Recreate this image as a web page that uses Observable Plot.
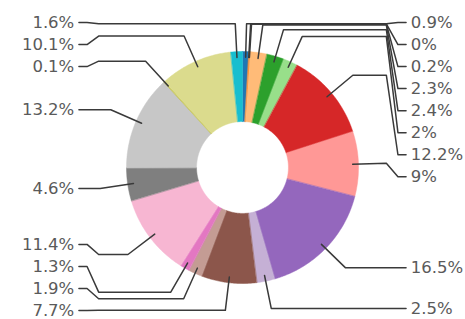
<!DOCTYPE html>
<html><head><meta charset="utf-8">
<script src="https://cdn.jsdelivr.net/npm/d3@7"></script>
<script src="https://cdn.jsdelivr.net/npm/@observablehq/plot@0.6"></script>
<style>html,body{margin:0;padding:0;background:#fff}</style>
</head><body><div id="chart"></div>
<script>
// Slice values (percent), clockwise from 12 o'clock
const values = [0.9, 0, 0.2, 2.3, 2.4, 2, 12.2, 9, 16.5, 2.5, 7.7, 1.9, 1.3, 11.4, 4.6, 13.2, 0.1, 10.1, 1.6];
const labels = ["0.9%", "0%", "0.2%", "2.3%", "2.4%", "2%", "12.2%", "9%", "16.5%", "2.5%", "7.7%", "1.9%", "1.3%", "11.4%", "4.6%", "13.2%", "0.1%", "10.1%", "1.6%"];
const colors = ["#1f77b4", "#aec7e8", "#ff7f0e", "#ffbb78", "#2ca02c", "#98df8a", "#d62728", "#ff9896", "#9467bd", "#c5b0d5", "#8c564b", "#c49c94", "#e377c2", "#f7b6d2", "#7f7f7f", "#c7c7c7", "#bcbd22", "#dbdb8d", "#17becf"];

// geometry in units of the outer radius
const INNER = 0.396;
const ANCHOR = 0.95, ELBOW = 1.24, BUS = 1.24, ARM = 1.34, LINE_END = 1.41, TEXT_X = 1.45;
const SPACING = 0.19, TOP = 1.25, BOTTOM = -1.233;

const total = d3.sum(values);
let acc = 0;
const arcs = values.map((v, i) => {
  const a0 = acc / total * 2 * Math.PI;
  acc += v;
  const a1 = acc / total * 2 * Math.PI;
  return {i, a0, a1, mid: (a0 + a1) / 2};
});

// slice polygons
const slicePts = [];
for (const a of arcs) {
  const n = Math.max(2, Math.ceil((a.a1 - a.a0) / 0.01));
  for (let k = 0; k <= n; k++) {
    const t = a.a0 + (a.a1 - a.a0) * k / n;
    slicePts.push({i: a.i, x: Math.sin(t), y: Math.cos(t), c: colors[a.i]});
  }
  for (let k = n; k >= 0; k--) {
    const t = a.a0 + (a.a1 - a.a0) * k / n;
    slicePts.push({i: a.i, x: INNER * Math.sin(t), y: INNER * Math.cos(t), c: colors[a.i]});
  }
}

// label layout
const items = arcs.map(a => ({
  i: a.i, mid: a.mid,
  side: Math.sin(a.mid) >= 0 ? 1 : -1,
  y0: ELBOW * Math.cos(a.mid),
  y: ELBOW * Math.cos(a.mid)
}));
function relax(list) {
  list.sort((a, b) => b.y0 - a.y0);
  for (let it = 0; it < 3000; it++) {
    for (let k = 0; k < list.length - 1; k++) {
      const a = list[k], b = list[k + 1];
      const gap = a.y - b.y;
      if (gap < SPACING) { const d = (SPACING - gap) / 2; a.y += d; b.y -= d; }
    }
    for (const o of list) o.y = Math.min(TOP, Math.max(BOTTOM, o.y));
  }
}
relax(items.filter(d => d.side > 0));
relax(items.filter(d => d.side < 0));

const leaderPts = [];
for (const d of items) {
  const s = Math.sin(d.mid), c = Math.cos(d.mid);
  const x1 = ELBOW * s;
  leaderPts.push({i: d.i, x: ANCHOR * s, y: ANCHOR * c});
  leaderPts.push({i: d.i, x: x1, y: d.y0});
  leaderPts.push({i: d.i, x: d.side * Math.max(Math.abs(x1), BUS), y: d.y0});
  leaderPts.push({i: d.i, x: d.side * ARM, y: d.y});
  leaderPts.push({i: d.i, x: d.side * LINE_END, y: d.y});
}
const textData = items.map(d => ({x: d.side * TEXT_X, y: d.y, side: d.side, t: labels[d.i]}));

const chart = Plot.plot({
  width: 465, height: 319, margin: 0,
  x: {domain: [-242 / 116, 223 / 116], axis: null},
  y: {domain: [-152 / 116, 167 / 116], axis: null},
  color: {type: "identity"},
  style: {background: "#fff", fontFamily: "DejaVu Sans, sans-serif"},
  marks: [
    Plot.line(slicePts, {x: "x", y: "y", z: "i", fill: "c", stroke: "c", strokeWidth: 0.5, curve: "linear-closed"}),
    Plot.line(leaderPts, {x: "x", y: "y", z: "i", stroke: "#3a3a3a", strokeWidth: 1.5}),
    Plot.text(textData.filter(d => d.side > 0), {x: "x", y: "y", text: "t", textAnchor: "start", fontSize: 16.5, fill: "#5a5a5a"}),
    Plot.text(textData.filter(d => d.side < 0), {x: "x", y: "y", text: "t", textAnchor: "end", fontSize: 16.5, fill: "#5a5a5a"})
  ]
});
document.getElementById("chart").appendChild(chart);
</script>
</body></html>
